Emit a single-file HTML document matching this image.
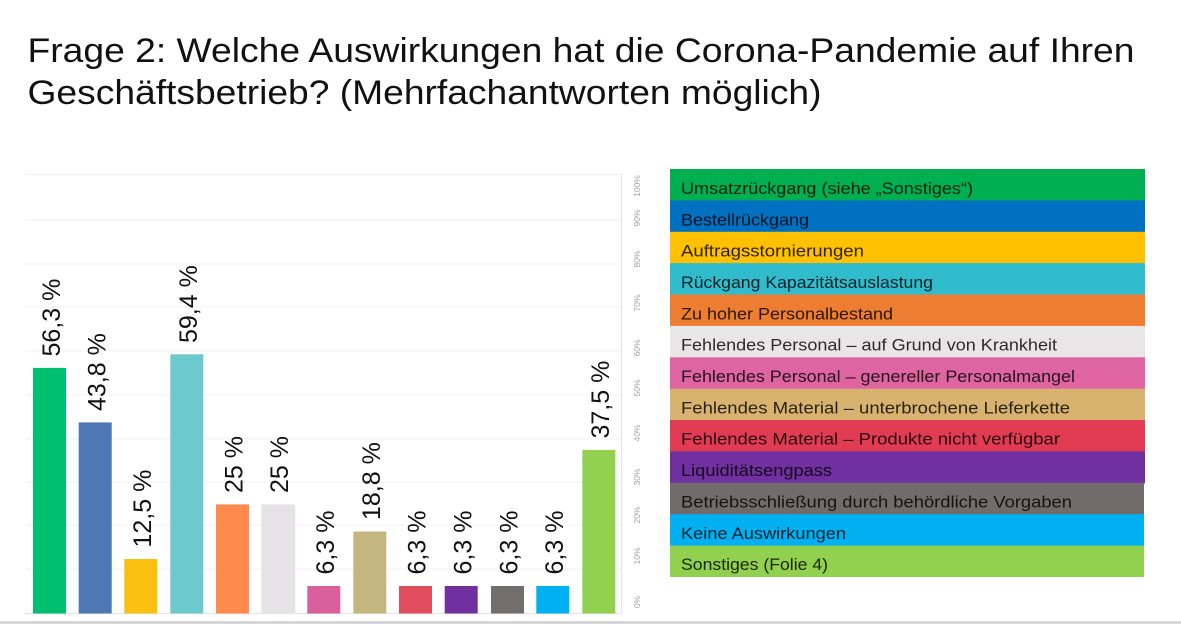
<!DOCTYPE html>
<html>
<head>
<meta charset="utf-8">
<style>
  html,body{margin:0;padding:0;background:#fff;}
  body{width:1181px;height:624px;overflow:hidden;}
  svg{display:block;}
  text{font-family:"Liberation Sans", Arial, sans-serif;}
</style>
</head>
<body>
<svg width="1181" height="624" viewBox="0 0 1181 624" xmlns="http://www.w3.org/2000/svg">
  <rect x="0" y="0" width="1181" height="624" fill="#ffffff"/>

  <!-- Title -->
  <text x="27.5" y="62" font-size="34" fill="#111" textLength="1107" lengthAdjust="spacingAndGlyphs">Frage 2: Welche Auswirkungen hat die Corona-Pandemie auf Ihren</text>
  <text x="27.5" y="104" font-size="34" fill="#111" textLength="794" lengthAdjust="spacingAndGlyphs">Geschäftsbetrieb? (Mehrfachantworten möglich)</text>

  <!-- Gridlines -->
  <g stroke="#f1f1f1" stroke-width="1">
    <line x1="25" y1="174.5" x2="622" y2="174.5"/>
    <line x1="25" y1="220" x2="622" y2="220"/>
    <line x1="25" y1="264" x2="622" y2="264"/>
    <line x1="25" y1="307" x2="622" y2="307"/>
    <line x1="25" y1="351" x2="622" y2="351"/>
    <line x1="25" y1="395" x2="622" y2="395"/>
    <line x1="25" y1="439" x2="622" y2="439"/>
    <line x1="25" y1="482" x2="622" y2="482"/>
    <line x1="25" y1="525" x2="622" y2="525"/>
    <line x1="25" y1="569" x2="622" y2="569"/>
  </g>
  <line x1="25" y1="613.5" x2="622" y2="613.5" stroke="#e4e4e4" stroke-width="1.2"/>
  <line x1="621.5" y1="174" x2="621.5" y2="614" stroke="#e6e6ea" stroke-width="1.2"/>

  <!-- Bars -->
  <rect x="33"    y="367.9" width="33" height="245.6" fill="#00bf6f"/>
  <rect x="78.7"  y="422.4" width="33" height="191.1" fill="#4e78b5"/>
  <rect x="124.3" y="559.0" width="33" height="54.5"  fill="#f9c00f"/>
  <rect x="170.3" y="354.3" width="33" height="259.2" fill="#6ccacf"/>
  <rect x="216"   y="504.4" width="33" height="109.1" fill="#ff8a4c"/>
  <rect x="261.3" y="504.4" width="34" height="109.1" fill="#e5e3e5"/>
  <rect x="307.3" y="586.0" width="33" height="27.5"  fill="#d9609a"/>
  <rect x="353.3" y="531.5" width="33" height="82.0"  fill="#c4b67f"/>
  <rect x="399"   y="586.0" width="33" height="27.5"  fill="#e04e5d"/>
  <rect x="444.7" y="586.0" width="33" height="27.5"  fill="#7030a0"/>
  <rect x="491"   y="586.0" width="33" height="27.5"  fill="#736e6e"/>
  <rect x="536.3" y="586.0" width="33" height="27.5"  fill="#00b0f0"/>
  <rect x="582.3" y="449.9" width="33" height="163.6" fill="#92d050"/>

  <!-- Bar labels (rotated) -->
  <g font-size="25" fill="#111">
    <text transform="translate(60,356.5) rotate(-90)">56,3 %</text>
    <text transform="translate(105.5,411) rotate(-90)">43,8 %</text>
    <text transform="translate(151,547.5) rotate(-90)">12,5 %</text>
    <text transform="translate(197,343) rotate(-90)">59,4 %</text>
    <text transform="translate(242.5,493) rotate(-90)">25 %</text>
    <text transform="translate(288,493) rotate(-90)">25 %</text>
    <text transform="translate(334,574.5) rotate(-90)">6,3 %</text>
    <text transform="translate(380,520) rotate(-90)">18,8 %</text>
    <text transform="translate(425.5,574.5) rotate(-90)">6,3 %</text>
    <text transform="translate(471.5,574.5) rotate(-90)">6,3 %</text>
    <text transform="translate(517.5,574.5) rotate(-90)">6,3 %</text>
    <text transform="translate(563,574.5) rotate(-90)">6,3 %</text>
    <text transform="translate(609,438.5) rotate(-90)">37,5 %</text>
  </g>

  <!-- Right axis labels (tiny, rotated) -->
  <g font-size="8.5" fill="#a0a0a0" text-anchor="middle">
    <text transform="translate(640,602) rotate(-90)">0%</text>
    <text transform="translate(640,556) rotate(-90)">10%</text>
    <text transform="translate(640,515) rotate(-90)">20%</text>
    <text transform="translate(640,477) rotate(-90)">30%</text>
    <text transform="translate(640,433) rotate(-90)">40%</text>
    <text transform="translate(640,388) rotate(-90)">50%</text>
    <text transform="translate(640,348) rotate(-90)">60%</text>
    <text transform="translate(640,303) rotate(-90)">70%</text>
    <text transform="translate(640,259) rotate(-90)">80%</text>
    <text transform="translate(640,218) rotate(-90)">90%</text>
    <text transform="translate(640,186) rotate(-90)">100%</text>
  </g>

  <!-- Legend -->
  <g>
    <rect x="670" y="169"   width="475" height="32" fill="#00b050"/>
    <rect x="670" y="200.4" width="475" height="32" fill="#0070c0"/>
    <rect x="670" y="231.8" width="475" height="32" fill="#ffc000"/>
    <rect x="670" y="263.1" width="475" height="32" fill="#31bccd"/>
    <rect x="670" y="294.5" width="475" height="32" fill="#ed7d31"/>
    <rect x="670" y="325.9" width="475" height="32" fill="#e8e6e7"/>
    <rect x="670" y="357.3" width="475" height="32" fill="#de65a1"/>
    <rect x="670" y="388.7" width="475" height="32" fill="#d8b36f"/>
    <rect x="670" y="420.0" width="475" height="32" fill="#e23c55"/>
    <rect x="670" y="451.4" width="475" height="32" fill="#7030a0"/>
    <rect x="670" y="482.8" width="474" height="32" fill="#716b6b"/>
    <rect x="670" y="514.2" width="474" height="32" fill="#00b0f0"/>
    <rect x="670" y="545.6" width="474" height="31.4" fill="#92d050"/>
  </g>
  <g font-size="17" fill="#000" fill-opacity="0.82">
    <text x="681" y="194"   textLength="292" lengthAdjust="spacingAndGlyphs">Umsatzrückgang (siehe „Sonstiges“)</text>
    <text x="681" y="225.5" textLength="128" lengthAdjust="spacingAndGlyphs">Bestellrückgang</text>
    <text x="681" y="256.5" textLength="183" lengthAdjust="spacingAndGlyphs">Auftragsstornierungen</text>
    <text x="681" y="288"   textLength="252" lengthAdjust="spacingAndGlyphs">Rückgang Kapazitätsauslastung</text>
    <text x="681" y="319.5" textLength="212" lengthAdjust="spacingAndGlyphs">Zu hoher Personalbestand</text>
    <text x="681" y="350.7" textLength="376" lengthAdjust="spacingAndGlyphs">Fehlendes Personal – auf Grund von Krankheit</text>
    <text x="681" y="382"   textLength="394" lengthAdjust="spacingAndGlyphs">Fehlendes Personal – genereller Personalmangel</text>
    <text x="681" y="413.3" textLength="389" lengthAdjust="spacingAndGlyphs">Fehlendes Material – unterbrochene Lieferkette</text>
    <text x="681" y="444.7" textLength="379" lengthAdjust="spacingAndGlyphs">Fehlendes Material – Produkte nicht verfügbar</text>
    <text x="681" y="476"   textLength="151" lengthAdjust="spacingAndGlyphs">Liquiditätsengpass</text>
    <text x="681" y="507.4" textLength="391" lengthAdjust="spacingAndGlyphs">Betriebsschließung durch behördliche Vorgaben</text>
    <text x="681" y="538.8" textLength="165" lengthAdjust="spacingAndGlyphs">Keine Auswirkungen</text>
    <text x="681" y="570"   textLength="147" lengthAdjust="spacingAndGlyphs">Sonstiges (Folie 4)</text>
  </g>

  <!-- Bottom grey band -->
  <rect x="0" y="621" width="1181" height="3" fill="#d6d6d6"/>
</svg>
</body>
</html>
